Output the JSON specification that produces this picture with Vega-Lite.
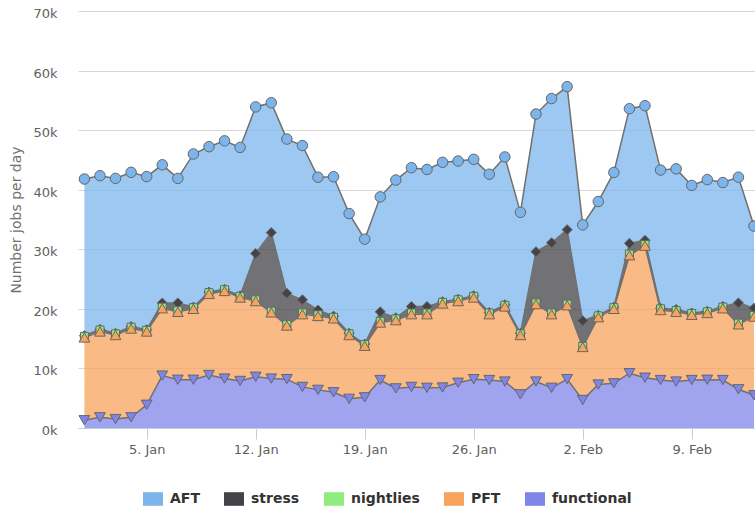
{
  "$schema": "https://vega.github.io/schema/vega-lite/v6.json",
  "width": 677,
  "height": 417,
  "autosize": {"type": "none"},
  "padding": {"left": 78, "top": 11, "right": 0, "bottom": 83},
  "background": "white",
  "config": {"view": {"stroke": null}, "font": "DejaVu Sans"},
  "datasets": {
    "ranks": [
      {"s": "functional", "rank": 0},
      {"s": "PFT", "rank": 1},
      {"s": "nightlies", "rank": 2},
      {"s": "stress", "rank": 3},
      {"s": "AFT", "rank": 4}
    ]
  },
  "data": {"values": [
    {"d":"2015-01-01","s":"AFT","v":26300},{"d":"2015-01-02","s":"AFT","v":25800},{"d":"2015-01-03","s":"AFT","v":26000},{"d":"2015-01-04","s":"AFT","v":25900},{"d":"2015-01-05","s":"AFT","v":25700},{"d":"2015-01-06","s":"AFT","v":23200},{"d":"2015-01-07","s":"AFT","v":20900},{"d":"2015-01-08","s":"AFT","v":25700},{"d":"2015-01-09","s":"AFT","v":24400},{"d":"2015-01-10","s":"AFT","v":24900},{"d":"2015-01-11","s":"AFT","v":24900},
    {"d":"2015-01-12","s":"AFT","v":24600},{"d":"2015-01-13","s":"AFT","v":21800},{"d":"2015-01-14","s":"AFT","v":25900},{"d":"2015-01-15","s":"AFT","v":25900},{"d":"2015-01-16","s":"AFT","v":22300},{"d":"2015-01-17","s":"AFT","v":23400},{"d":"2015-01-18","s":"AFT","v":20100},{"d":"2015-01-19","s":"AFT","v":17600},{"d":"2015-01-20","s":"AFT","v":19300},{"d":"2015-01-21","s":"AFT","v":23100},
    {"d":"2015-01-22","s":"AFT","v":23300},{"d":"2015-01-23","s":"AFT","v":23000},{"d":"2015-01-24","s":"AFT","v":23400},{"d":"2015-01-25","s":"AFT","v":23200},{"d":"2015-01-26","s":"AFT","v":22900},{"d":"2015-01-27","s":"AFT","v":23200},{"d":"2015-01-28","s":"AFT","v":24800},{"d":"2015-01-29","s":"AFT","v":20300},{"d":"2015-01-30","s":"AFT","v":23100},{"d":"2015-01-31","s":"AFT","v":24200},
    {"d":"2015-02-01","s":"AFT","v":24000},{"d":"2015-02-02","s":"AFT","v":16100},{"d":"2015-02-03","s":"AFT","v":19100},{"d":"2015-02-04","s":"AFT","v":22600},{"d":"2015-02-05","s":"AFT","v":22600},{"d":"2015-02-06","s":"AFT","v":22600},{"d":"2015-02-07","s":"AFT","v":23200},{"d":"2015-02-08","s":"AFT","v":23600},{"d":"2015-02-09","s":"AFT","v":21400},{"d":"2015-02-10","s":"AFT","v":22100},{"d":"2015-02-11","s":"AFT","v":20800},{"d":"2015-02-12","s":"AFT","v":21100},{"d":"2015-02-13","s":"AFT","v":13800},

    {"d":"2015-01-01","s":"stress","v":100},{"d":"2015-01-02","s":"stress","v":100},{"d":"2015-01-03","s":"stress","v":100},{"d":"2015-01-04","s":"stress","v":100},{"d":"2015-01-05","s":"stress","v":100},{"d":"2015-01-06","s":"stress","v":700},{"d":"2015-01-07","s":"stress","v":1300},{"d":"2015-01-08","s":"stress","v":100},{"d":"2015-01-09","s":"stress","v":100},{"d":"2015-01-10","s":"stress","v":100},{"d":"2015-01-11","s":"stress","v":100},
    {"d":"2015-01-12","s":"stress","v":7800},{"d":"2015-01-13","s":"stress","v":13200},{"d":"2015-01-14","s":"stress","v":5200},{"d":"2015-01-15","s":"stress","v":2200},{"d":"2015-01-16","s":"stress","v":800},{"d":"2015-01-17","s":"stress","v":200},{"d":"2015-01-18","s":"stress","v":100},{"d":"2015-01-19","s":"stress","v":100},{"d":"2015-01-20","s":"stress","v":1600},{"d":"2015-01-21","s":"stress","v":200},
    {"d":"2015-01-22","s":"stress","v":1100},{"d":"2015-01-23","s":"stress","v":1100},{"d":"2015-01-24","s":"stress","v":100},{"d":"2015-01-25","s":"stress","v":100},{"d":"2015-01-26","s":"stress","v":100},{"d":"2015-01-27","s":"stress","v":100},{"d":"2015-01-28","s":"stress","v":100},{"d":"2015-01-29","s":"stress","v":100},{"d":"2015-01-30","s":"stress","v":8600},{"d":"2015-01-31","s":"stress","v":11800},
    {"d":"2015-02-01","s":"stress","v":12500},{"d":"2015-02-02","s":"stress","v":4300},{"d":"2015-02-03","s":"stress","v":100},{"d":"2015-02-04","s":"stress","v":100},{"d":"2015-02-05","s":"stress","v":1800},{"d":"2015-02-06","s":"stress","v":700},{"d":"2015-02-07","s":"stress","v":100},{"d":"2015-02-08","s":"stress","v":200},{"d":"2015-02-09","s":"stress","v":100},{"d":"2015-02-10","s":"stress","v":100},{"d":"2015-02-11","s":"stress","v":100},{"d":"2015-02-12","s":"stress","v":3400},{"d":"2015-02-13","s":"stress","v":1200},

    {"d":"2015-01-01","s":"nightlies","v":200},{"d":"2015-01-02","s":"nightlies","v":250},{"d":"2015-01-03","s":"nightlies","v":200},{"d":"2015-01-04","s":"nightlies","v":220},{"d":"2015-01-05","s":"nightlies","v":200},{"d":"2015-01-06","s":"nightlies","v":180},{"d":"2015-01-07","s":"nightlies","v":200},{"d":"2015-01-08","s":"nightlies","v":200},{"d":"2015-01-09","s":"nightlies","v":220},{"d":"2015-01-10","s":"nightlies","v":200},{"d":"2015-01-11","s":"nightlies","v":200},
    {"d":"2015-01-12","s":"nightlies","v":200},{"d":"2015-01-13","s":"nightlies","v":200},{"d":"2015-01-14","s":"nightlies","v":200},{"d":"2015-01-15","s":"nightlies","v":220},{"d":"2015-01-16","s":"nightlies","v":200},{"d":"2015-01-17","s":"nightlies","v":180},{"d":"2015-01-18","s":"nightlies","v":200},{"d":"2015-01-19","s":"nightlies","v":200},{"d":"2015-01-20","s":"nightlies","v":200},{"d":"2015-01-21","s":"nightlies","v":220},
    {"d":"2015-01-22","s":"nightlies","v":200},{"d":"2015-01-23","s":"nightlies","v":200},{"d":"2015-01-24","s":"nightlies","v":200},{"d":"2015-01-25","s":"nightlies","v":220},{"d":"2015-01-26","s":"nightlies","v":200},{"d":"2015-01-27","s":"nightlies","v":200},{"d":"2015-01-28","s":"nightlies","v":200},{"d":"2015-01-29","s":"nightlies","v":200},{"d":"2015-01-30","s":"nightlies","v":200},{"d":"2015-01-31","s":"nightlies","v":200},
    {"d":"2015-02-01","s":"nightlies","v":200},{"d":"2015-02-02","s":"nightlies","v":100},{"d":"2015-02-03","s":"nightlies","v":220},{"d":"2015-02-04","s":"nightlies","v":200},{"d":"2015-02-05","s":"nightlies","v":200},{"d":"2015-02-06","s":"nightlies","v":200},{"d":"2015-02-07","s":"nightlies","v":200},{"d":"2015-02-08","s":"nightlies","v":200},{"d":"2015-02-09","s":"nightlies","v":220},{"d":"2015-02-10","s":"nightlies","v":200},{"d":"2015-02-11","s":"nightlies","v":200},{"d":"2015-02-12","s":"nightlies","v":200},{"d":"2015-02-13","s":"nightlies","v":200},

    {"d":"2015-01-01","s":"PFT","v":13900},{"d":"2015-01-02","s":"PFT","v":14400},{"d":"2015-01-03","s":"PFT","v":14100},{"d":"2015-01-04","s":"PFT","v":14900},{"d":"2015-01-05","s":"PFT","v":12300},{"d":"2015-01-06","s":"PFT","v":11300},{"d":"2015-01-07","s":"PFT","v":11400},{"d":"2015-01-08","s":"PFT","v":11900},{"d":"2015-01-09","s":"PFT","v":13600},{"d":"2015-01-10","s":"PFT","v":14700},{"d":"2015-01-11","s":"PFT","v":14000},
    {"d":"2015-01-12","s":"PFT","v":12700},{"d":"2015-01-13","s":"PFT","v":11100},{"d":"2015-01-14","s":"PFT","v":9000},{"d":"2015-01-15","s":"PFT","v":12200},{"d":"2015-01-16","s":"PFT","v":12400},{"d":"2015-01-17","s":"PFT","v":12400},{"d":"2015-01-18","s":"PFT","v":10700},{"d":"2015-01-19","s":"PFT","v":8650},{"d":"2015-01-20","s":"PFT","v":9650},{"d":"2015-01-21","s":"PFT","v":11450},
    {"d":"2015-01-22","s":"PFT","v":12200},{"d":"2015-01-23","s":"PFT","v":12350},{"d":"2015-01-24","s":"PFT","v":14100},{"d":"2015-01-25","s":"PFT","v":13700},{"d":"2015-01-26","s":"PFT","v":13700},{"d":"2015-01-27","s":"PFT","v":11050},{"d":"2015-01-28","s":"PFT","v":12600},{"d":"2015-01-29","s":"PFT","v":9950},{"d":"2015-01-30","s":"PFT","v":13000},{"d":"2015-01-31","s":"PFT","v":12350},
    {"d":"2015-02-01","s":"PFT","v":12400},{"d":"2015-02-02","s":"PFT","v":8900},{"d":"2015-02-03","s":"PFT","v":11300},{"d":"2015-02-04","s":"PFT","v":12500},{"d":"2015-02-05","s":"PFT","v":19800},{"d":"2015-02-06","s":"PFT","v":22150},{"d":"2015-02-07","s":"PFT","v":11750},{"d":"2015-02-08","s":"PFT","v":11700},{"d":"2015-02-09","s":"PFT","v":10950},{"d":"2015-02-10","s":"PFT","v":11200},{"d":"2015-02-11","s":"PFT","v":12050},{"d":"2015-02-12","s":"PFT","v":10900},{"d":"2015-02-13","s":"PFT","v":13200},

    {"d":"2015-01-01","s":"functional","v":1300},{"d":"2015-01-02","s":"functional","v":1800},{"d":"2015-01-03","s":"functional","v":1500},{"d":"2015-01-04","s":"functional","v":1800},{"d":"2015-01-05","s":"functional","v":3900},{"d":"2015-01-06","s":"functional","v":8800},{"d":"2015-01-07","s":"functional","v":8100},{"d":"2015-01-08","s":"functional","v":8100},{"d":"2015-01-09","s":"functional","v":8900},{"d":"2015-01-10","s":"functional","v":8300},{"d":"2015-01-11","s":"functional","v":7900},
    {"d":"2015-01-12","s":"functional","v":8600},{"d":"2015-01-13","s":"functional","v":8300},{"d":"2015-01-14","s":"functional","v":8200},{"d":"2015-01-15","s":"functional","v":6900},{"d":"2015-01-16","s":"functional","v":6400},{"d":"2015-01-17","s":"functional","v":6000},{"d":"2015-01-18","s":"functional","v":4900},{"d":"2015-01-19","s":"functional","v":5150},{"d":"2015-01-20","s":"functional","v":8050},{"d":"2015-01-21","s":"functional","v":6650},
    {"d":"2015-01-22","s":"functional","v":6900},{"d":"2015-01-23","s":"functional","v":6750},{"d":"2015-01-24","s":"functional","v":6800},{"d":"2015-01-25","s":"functional","v":7600},{"d":"2015-01-26","s":"functional","v":8200},{"d":"2015-01-27","s":"functional","v":8050},{"d":"2015-01-28","s":"functional","v":7800},{"d":"2015-01-29","s":"functional","v":5650},{"d":"2015-01-30","s":"functional","v":7800},{"d":"2015-01-31","s":"functional","v":6750},
    {"d":"2015-02-01","s":"functional","v":8200},{"d":"2015-02-02","s":"functional","v":4700},{"d":"2015-02-03","s":"functional","v":7300},{"d":"2015-02-04","s":"functional","v":7500},{"d":"2015-02-05","s":"functional","v":9200},{"d":"2015-02-06","s":"functional","v":8450},{"d":"2015-02-07","s":"functional","v":8050},{"d":"2015-02-08","s":"functional","v":7800},{"d":"2015-02-09","s":"functional","v":8050},{"d":"2015-02-10","s":"functional","v":8100},{"d":"2015-02-11","s":"functional","v":8050},{"d":"2015-02-12","s":"functional","v":6500},{"d":"2015-02-13","s":"functional","v":5500}
  ]},
  "transform": [
    {"lookup": "s", "from": {"data": {"name": "ranks"}, "key": "s", "fields": ["rank"]}},
    {"stack": "v", "groupby": ["d"], "sort": [{"field": "rank", "order": "ascending"}], "as": ["y0", "y1"]}
  ],
  "encoding": {
    "x": {
      "field": "d",
      "type": "temporal",
      "scale": {
        "type": "utc",
        "domain": [
          {"year": 2014, "month": 12, "date": 31, "hours": 14, "minutes": 8, "utc": true},
          {"year": 2015, "month": 2, "date": 13, "hours": 1, "minutes": 32, "utc": true}
        ]
      },
      "axis": {
        "title": null,
        "grid": false,
        "values": [
          {"year": 2015, "month": 1, "date": 5, "utc": true},
          {"year": 2015, "month": 1, "date": 12, "utc": true},
          {"year": 2015, "month": 1, "date": 19, "utc": true},
          {"year": 2015, "month": 1, "date": 26, "utc": true},
          {"year": 2015, "month": 2, "date": 2, "utc": true},
          {"year": 2015, "month": 2, "date": 9, "utc": true}
        ],
        "labelExpr": "utcFormat(datum.value, '%-d. %b')",
        "domainColor": "#C0D0E0",
        "domainWidth": 1,
        "tickColor": "#C0D0E0",
        "tickSize": 11,
        "labelFont": "DejaVu Sans",
        "labelFontSize": 13,
        "labelColor": "#606060",
        "labelPadding": 4,
        "labelFlush": false,
        "labelOverlap": false
      }
    },
    "y": {"field": "y1", "type": "quantitative", "stack": null}
  },
  "layer": [
    {
      "mark": {"type": "area", "fillOpacity": 0.75, "clip": true},
      "encoding": {
        "y": {
          "field": "y1",
          "type": "quantitative",
          "stack": null,
          "scale": {"domain": [0, 70000], "nice": false},
          "axis": {
            "values": [0, 10000, 20000, 30000, 40000, 50000, 60000, 70000],
            "labelExpr": "datum.value / 1000 + 'k'",
            "grid": true,
            "gridColor": "#D8D8D8",
            "gridWidth": 1,
            "domain": false,
            "ticks": false,
            "tickSize": 0,
            "labelPadding": 21,
            "labelOffset": 2.5,
            "labelFont": "DejaVu Sans",
            "labelFontSize": 13,
            "labelColor": "#606060",
            "title": "Number jobs per day",
            "titleFont": "DejaVu Sans",
            "titleFontSize": 14,
            "titleFontWeight": "normal",
            "titleColor": "#707070",
            "titleAngle": 270,
            "titleX": -62,
            "titleY": 208.5,
            "titleAlign": "center",
            "titleBaseline": "middle"
          }
        },
        "y2": {"field": "y0"},
        "color": {
          "field": "s",
          "type": "nominal",
          "scale": {
            "domain": ["AFT", "stress", "nightlies", "PFT", "functional"],
            "range": ["#7cb5ec", "#434348", "#90ed7d", "#f7a35c", "#8085e9"]
          },
          "legend": {
            "orient": "none",
            "legendX": 65,
            "legendY": 478,
            "direction": "horizontal",
            "title": null,
            "padding": 0,
            "symbolType": "M-1,-0.68L1,-0.68L1,0.68L-1,0.68Z",
            "symbolSize": 400,
            "symbolStrokeWidth": 0,
            "symbolOpacity": 1,
            "labelFont": "DejaVu Sans",
            "labelFontSize": 14,
            "labelFontWeight": "bold",
            "labelColor": "#333333",
            "labelOffset": 7,
            "columnPadding": 24,
            "encode": {"symbols": {"update": {
              "fillOpacity": {"value": 1},
              "opacity": {"value": 1},
              "strokeWidth": {"value": 0}
            }}}
          }
        }
      }
    },
    {
      "mark": {"type": "line", "stroke": "#707070", "strokeWidth": 1.5, "clip": true},
      "encoding": {
        "detail": {"field": "s", "type": "nominal"}
      }
    },
    {
      "transform": [{"filter": "datum.s == 'AFT'"}],
      "mark": {"type": "point", "shape": "circle", "size": 110, "filled": true, "fill": "#7cb5ec", "stroke": "#666666", "strokeWidth": 1, "opacity": 1, "fillOpacity": 1, "strokeOpacity": 1, "clip": true},
      "encoding": {}
    },
    {
      "transform": [{"filter": "datum.s == 'stress'"}],
      "mark": {"type": "point", "shape": "diamond", "size": 100, "filled": true, "fill": "#434348", "stroke": "#666666", "strokeWidth": 1, "opacity": 1, "fillOpacity": 1, "strokeOpacity": 1, "clip": true},
      "encoding": {}
    },
    {
      "transform": [{"filter": "datum.s == 'nightlies'"}],
      "mark": {"type": "point", "shape": "square", "size": 64, "filled": true, "fill": "#90ed7d", "stroke": "#666666", "strokeWidth": 1, "opacity": 1, "fillOpacity": 1, "strokeOpacity": 1, "clip": true},
      "encoding": {}
    },
    {
      "transform": [{"filter": "datum.s == 'PFT'"}],
      "mark": {"type": "point", "shape": "triangle-up", "size": 115, "filled": true, "fill": "#f7a35c", "stroke": "#666666", "strokeWidth": 1, "opacity": 1, "fillOpacity": 1, "strokeOpacity": 1, "clip": true},
      "encoding": {}
    },
    {
      "transform": [{"filter": "datum.s == 'functional'"}],
      "mark": {"type": "point", "shape": "triangle-down", "size": 115, "filled": true, "fill": "#8085e9", "stroke": "#666666", "strokeWidth": 1, "opacity": 1, "fillOpacity": 1, "strokeOpacity": 1, "clip": true},
      "encoding": {}
    }
  ]
}
